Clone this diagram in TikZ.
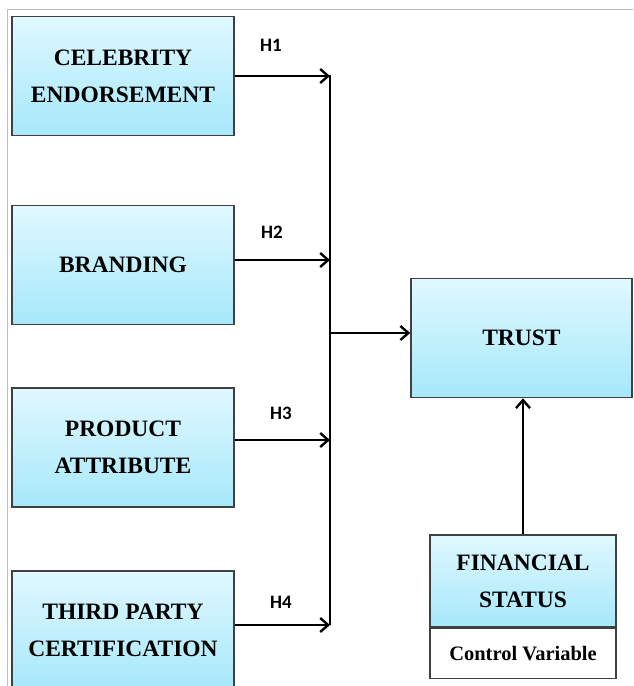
\documentclass[tikz,border=0pt]{standalone}
\usepackage{fontspec}
\setmainfont{Liberation Serif}
\newfontfamily\labelfont{Carlito}
\usetikzlibrary{arrows.meta}
\definecolor{boxtop}{HTML}{E0F8FF}
\definecolor{boxbot}{HTML}{A6E8FA}
\definecolor{boxline}{HTML}{404040}
\definecolor{framegray}{HTML}{BDBDBD}
\tikzset{
  modelbox/.style={draw=boxline, line width=1.6pt, top color=boxtop, bottom color=boxbot,
    minimum width=222pt, minimum height=119pt, inner sep=0pt, align=center,
    font=\fontsize{23.5}{37}\selectfont\bfseries},
  plainbox/.style={draw=boxline, line width=1.6pt, fill=white,
    minimum width=186pt, minimum height=50pt, inner sep=0pt, align=center,
    font=\fontsize{20.5}{24}\selectfont\bfseries},
  hyp/.style={font=\labelfont\fontsize{19}{22}\selectfont\bfseries, inner sep=0pt},
  link/.style={line width=2.4pt, -{Straight Barb[length=8pt,width=14pt,line width=2.4pt]}},
  bus/.style={line width=2.4pt},
}
\begin{document}
\begin{tikzpicture}[x=1pt,y=-1pt]
\useasboundingbox (0,0) rectangle (633,686);
\clip (0,0) rectangle (633,686);
\fill[white] (0,0) rectangle (633,686);
% thin frame on the top and left edges
\draw[framegray, line width=1pt] (7.5,686) -- (7.5,9) -- (633,9);

% predictor boxes
\node[modelbox] (c1) at (123,76) {CELEBRITY\\ENDORSEMENT};
\node[modelbox] (c2) at (123,265) {BRANDING};
\node[modelbox] (c3) at (123,447.5) {PRODUCT\\ATTRIBUTE};
\node[modelbox] (c4) at (123,630.5) {THIRD PARTY\\CERTIFICATION};

% outcome and control
\node[modelbox, minimum width=221pt] (trust) at (521.5,338) {TRUST};
\node[modelbox, minimum width=186pt, minimum height=92pt] (fin) at (523,581) {FINANCIAL\\STATUS};
\node[plainbox, anchor=north] (ctrl) at (fin.south) {Control Variable};

% junction points on the collector line
\coordinate (j1) at (330,76);
\coordinate (j2) at (330,260);
\coordinate (j3) at (330,440);
\coordinate (j4) at (330,625);
\coordinate (jm) at (330,333);

\draw[bus] (330,75) -- (330,625);
\draw[link] (c1.east |- j1) -- (j1);
\draw[link] (c2.east |- j2) -- (j2);
\draw[link] (c3.east |- j3) -- (j3);
\draw[link] (c4.east |- j4) -- (j4);
\draw[link] (jm) -- (trust.west |- jm);
\draw[link] (fin.north) -- (trust.south -| fin.north);

% hypothesis labels
\node[hyp] (h1) at (271,45) {H1};
\node[hyp] (h2) at (272,232) {H2};
\node[hyp] (h3) at (281,413) {H3};
\node[hyp] (h4) at (281,602) {H4};
\end{tikzpicture}
\end{document}
